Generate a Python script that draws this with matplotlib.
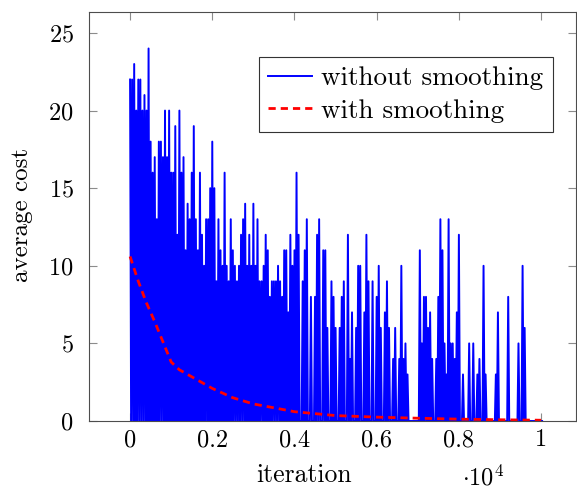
import numpy as np
import matplotlib.pyplot as plt

plt.rcParams["font.family"] = "cmr10"
plt.rcParams["mathtext.fontset"] = "cm"
plt.rcParams["axes.unicode_minus"] = False
plt.rcParams["axes.formatter.use_mathtext"] = True

# cost read per bin of 50 iterations (peak of the bin), line drops to floor in between
cost_peak = [
    22, 22, 23, 20, 22, 22, 20, 21, 20, 24,
    18, 16, 17, 13, 18, 18, 17, 20, 17, 20,
    16, 16, 19, 12, 20, 16, 17, 11, 14, 13,
    16, 19, 13, 11, 16, 12, 10, 13, 13, 15,
    18, 15, 9, 13, 11, 10, 16, 10, 9, 13,
    11, 10, 9, 10, 12, 13, 14, 10, 12, 10,
    14, 10, 13, 9, 9, 10, 12, 11, 8, 9,
    9, 9, 10, 9, 8, 11, 11, 7, 12, 10,
    11, 16, 12, 0, 9, 11, 13, 0, 8, 0,
    8, 12, 13, 0, 11, 11, 6, 0, 9, 8,
    6, 0, 6, 8, 9, 0, 12, 4, 7, 0,
    6, 10, 10, 0, 7, 12, 9, 0, 9, 0,
    8, 10, 6, 0, 7, 9, 6, 0, 4, 6,
    0, 4, 10, 4, 5, 3, 0, 0, 0, 0,
    0, 11, 5, 8, 8, 6, 7, 4, 0, 4,
    8, 13, 11, 5, 3, 13, 5, 5, 4, 7,
    12, 0, 3, 0, 0, 5, 0, 5, 0, 3,
    4, 0, 10, 3, 0, 0, 0, 0, 3, 7,
    0, 0, 0, 0, 8, 0, 0, 0, 0, 5,
    0, 10, 6, 0, 0, 0, 0, 0, 0, 0,
    0,
]
cost_floor = 0
bin_width = 50

smooth_iter = [0, 200, 400, 600, 800, 1000, 1200, 1500, 2000, 2500, 3000,
               3500, 4000, 5000, 6000, 7000, 8000, 9000, 10000]
smooth_cost = [10.6, 9.0, 7.6, 6.4, 5.1, 3.8, 3.3, 2.85, 2.1, 1.5, 1.1,
               0.85, 0.6, 0.35, 0.25, 0.18, 0.12, 0.08, 0.05]

n = len(cost_peak)
it = np.arange(n) * bin_width
x = np.empty(2 * n)
y = np.empty(2 * n)
x[0::2] = it
x[1::2] = it + bin_width / 2
y[0::2] = cost_peak
y[1::2] = cost_floor

fig = plt.figure(figsize=(5.77, 4.92), dpi=100)
ax = fig.add_axes([0.1542, 0.1443, 0.8441, 0.8313])

ax.plot(x, y, color="blue", lw=1.4, label="without smoothing")
ax.plot(smooth_iter, smooth_cost, color="red", lw=2.0, ls=(0, (2.6, 1.8)),
        label="with smoothing")

ax.set_xlim(-1000, 10850)
ax.set_ylim(0, 26.35)
ax.set_xticks([0, 2000, 4000, 6000, 8000, 10000])
ax.set_xticklabels(["0", "0.2", "0.4", "0.6", "0.8", "1"])
ax.set_yticks([0, 5, 10, 15, 20, 25])

ax.tick_params(direction="in", top=True, right=True, length=5.5, width=0.8,
               color="0.55", labelsize=17.5)
ax.tick_params(axis="x", pad=6)
ax.tick_params(axis="y", pad=11)
for s in ax.spines.values():
    s.set_color("0.3")
    s.set_linewidth(0.8)

fig.text(304 / 577, 1 - 482 / 492, "iteration", ha="center", va="baseline",
         fontsize=18.5)
fig.text(22 / 577, 1 - 215 / 492, "average cost", ha="center", va="center",
         rotation=90, fontsize=18)
fig.text(483 / 577, 0.013, r"$\cdot 10^4$", ha="center", va="baseline",
         fontsize=17.5)

leg = ax.legend(loc="upper right", bbox_to_anchor=(0.952, 0.890), fontsize=19.5,
                handlelength=1.6, handletextpad=0.35, borderpad=0.35,
                labelspacing=0.3, fancybox=False, framealpha=1,
                borderaxespad=0)
leg.get_frame().set_edgecolor("0.2")
leg.get_frame().set_linewidth(0.8)

fig.savefig("out.png", dpi=100)
